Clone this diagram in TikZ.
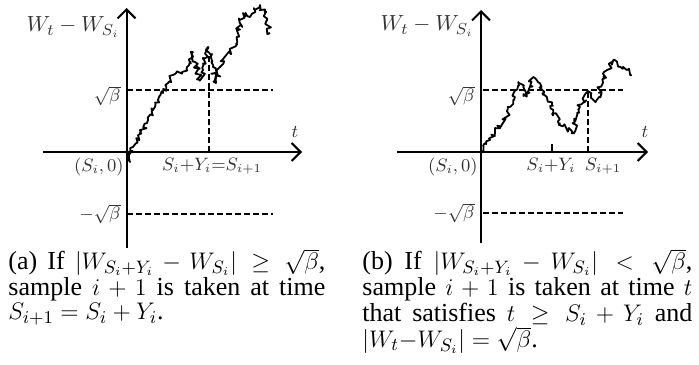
\documentclass[tikz,border=0pt]{standalone}
\usepackage{amsmath,amssymb}
\usepackage{fontspec}
\setmainfont{Liberation Serif}
\usetikzlibrary{arrows.meta,decorations.pathmorphing}
\tikzset{
  axis/.style={line width=1pt,-{Straight Barb[length=4.5pt,width=9pt,line width=1pt]}},
  level/.style={line width=0.9pt,dash pattern=on 3pt off 1.5pt},
  wiener/.style={line width=0.9pt,line join=round,decorate,decoration={random steps,segment length=1.1pt,amplitude=1.5pt}},
  lab/.style={inner sep=0pt,font=\fontsize{9}{10}\selectfont,text=black!80},
  ylab/.style={inner sep=0pt,font=\fontsize{11}{12}\selectfont,text=black!80},
  capt/.style={inner sep=0pt,anchor=north west,align=justify,font=\fontsize{13}{10.2}\selectfont},
}

\begin{document}
\begin{tikzpicture}[x=0.5pt,y=-0.5pt]
  \useasboundingbox (0,0) rectangle (699,364);
  \pgfmathsetseed{11}
  % (a) sample at S_i+Y_i
  \coordinate (aX0) at (43,152);
  \coordinate (aX1) at (302,152);
  \coordinate (aY0) at (126.5,248);
  \coordinate (aY1) at (126.5,8);
  \coordinate (aP0) at (127,90);
  \coordinate (aP1) at (273,90);
  \coordinate (aM0) at (127,214);
  \coordinate (aM1) at (273,214);
  \coordinate (aS) at (209,152);
  \coordinate (aH) at (209,55);
  \draw[level] (aP0) -- (aP1);
  \draw[level] (aM0) -- (aM1);
  \draw[level] (aS) -- (aH);
  \draw[axis] (aX0) -- (aX1);
  \draw[axis] (aY0) -- (aY1);
  \draw[wiener] (127,150) -- (130,162) -- (133,147) -- (140,133) -- (147,123) -- (153,110) -- (158,100)
    -- (163,93) -- (168,83) -- (173,75) -- (182,72) -- (187,67) -- (193,52) -- (200,80) -- (203,70)
    -- (208,47) -- (213,67) -- (216,83) -- (220,67) -- (230,53) -- (237,37) -- (243,13) -- (250,17)
    -- (260,5) -- (267,20) -- (270,33);
  \node[ylab,anchor=east] (aW) at (120,27) {$W_t - W_{S_i}$};
  \node[lab,anchor=east] (aB) at (121,96) {$\sqrt{\beta}$};
  \node[lab,anchor=east] (aNB) at (121,214) {$-\sqrt{\beta}$};
  \node[lab] (aT) at (295,132) {$t$};
  \node[lab,anchor=north east] (aO) at (124,158) {$(S_i,0)$};
  \node[lab,anchor=north] (aSY) at (212,158) {$S_i{+}Y_i{=}S_{i+1}$};
  \node[capt,text width=158.5pt] (aCap) at (8,249)
    {(a) If $|W_{S_i+Y_i}-W_{S_i}| \geq \sqrt{\beta}$,\linebreak sample $i+1$ is taken at time\linebreak $S_{i+1}=S_i+Y_i$.};
  % (b) sample when the level is hit
  \coordinate (bX0) at (397,152);
  \coordinate (bX1) at (648,152);
  \coordinate (bY0) at (481,243);
  \coordinate (bY1) at (481,10);
  \coordinate (bP0) at (483,90);
  \coordinate (bP1) at (623,90);
  \coordinate (bM0) at (483,213);
  \coordinate (bM1) at (623,213);
  \coordinate (bS) at (588,152);
  \coordinate (bH) at (588,91);
  \coordinate (bK0) at (552,152);
  \coordinate (bK1) at (552,144);
  \draw[level] (bP0) -- (bP1);
  \draw[level] (bM0) -- (bM1);
  \draw[level] (bS) -- (bH);
  \draw[line width=1pt] (bK0) -- (bK1);
  \draw[axis] (bX0) -- (bX1);
  \draw[axis] (bY0) -- (bY1);
  \draw[wiener] (482,151) -- (490,140) -- (496.7,128.3) -- (506.7,116.7) -- (513.3,100) -- (518.3,82)
    -- (523.3,87) -- (526.7,96.7) -- (533.3,77) -- (540,83.3) -- (546.7,96.7) -- (553.3,110)
    -- (560,123.3) -- (571.7,133.3) -- (580,106.7) -- (588,91) -- (596.7,100) -- (603.3,76.7)
    -- (613.3,60) -- (620,66.7) -- (626.7,70) -- (631.7,75);
  \node[ylab,anchor=east] (bW) at (474,26) {$W_t - W_{S_i}$};
  \node[lab,anchor=east] (bB) at (475,96) {$\sqrt{\beta}$};
  \node[lab,anchor=east] (bNB) at (475,213) {$-\sqrt{\beta}$};
  \node[lab] (bT) at (645,132) {$t$};
  \node[lab,anchor=north east] (bO) at (478,158) {$(S_i,0)$};
  \node[lab,anchor=north] (bSY) at (551,158) {$S_i{+}Y_i$};
  \node[lab,anchor=north] (bSn) at (603,158) {$S_{i+1}$};
  \node[capt,text width=165pt] (bCap) at (362,249)
    {(b) If $|W_{S_i+Y_i}-W_{S_i}| < \sqrt{\beta}$,\linebreak sample $i+1$ is taken at time $t$\linebreak that satisfies $t \geq S_i+Y_i$ and\linebreak $|W_t{-}W_{S_i}| = \sqrt{\beta}$.};
\end{tikzpicture}
\end{document}
